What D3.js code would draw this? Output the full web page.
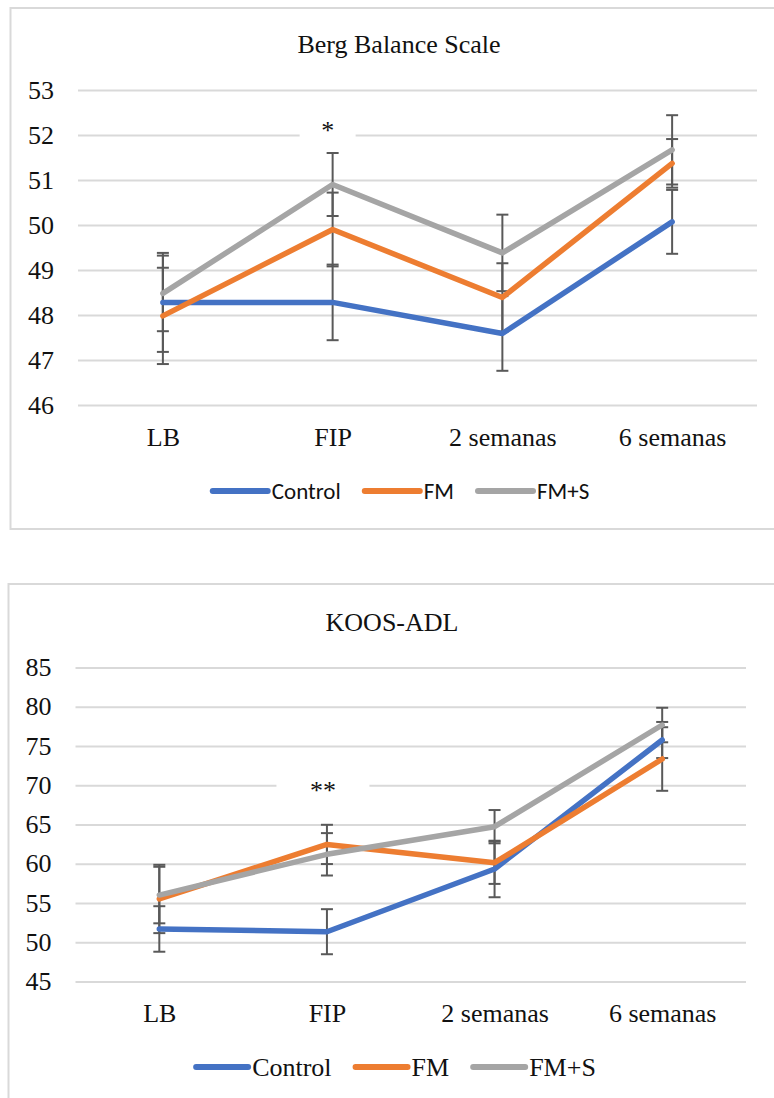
<!DOCTYPE html>
<html>
<head>
<meta charset="utf-8">
<script src="https://cdn.jsdelivr.net/npm/d3@7"></script>
<style>
  html, body { margin: 0; padding: 0; background: #fff; overflow: hidden; }
  svg { display: block; }
</style>
</head>
<body>
<svg id="chart" width="774" height="1098"></svg>
<script>
// shared categories and series names
const categories = ['LB', 'FIP', '2 semanas', '6 semanas'];
const seriesNames = ['Control', 'FM', 'FM+S'];
const seriesColors = ['#4472C4', '#ED7D31', '#A5A5A5'];

// Berg Balance Scale (means, error bar half-widths)
const bergControl = [48.28, 48.28, 47.59, 50.07];
const bergControlErr = [1.1, 0.84, 0.83, 0.71];
const bergFM = [47.98, 49.9, 48.39, 51.37];
const bergFMErr = [1.07, 0.82, 0.76, 0.54];
const bergFMS = [48.48, 50.9, 49.38, 51.67];
const bergFMSErr = [0.84, 0.7, 0.85, 0.77];
const bergTicks = [46, 47, 48, 49, 50, 51, 52, 53];

// KOOS-ADL
const koosControl = [51.68, 51.33, 59.32, 75.75];
const koosControlErr = [2.9, 2.87, 3.6, 2.3];
const koosFM = [55.5, 62.45, 60.12, 73.33];
const koosFMErr = [4.35, 2.5, 2.7, 4.05];
const koosFMS = [56.0, 61.19, 64.71, 77.66];
const koosFMSErr = [3.6, 2.7, 2.12, 2.2];
const koosTicks = [45, 50, 55, 60, 65, 70, 75, 80, 85];

const serif = "'Liberation Serif', 'Times New Roman', serif";
const svg = d3.select('#chart');

function drawChart(cfg) {
  const g = svg.append('g');

  // chart frame (right / bottom edges run off the page like the scan)
  g.append('rect')
    .attr('x', cfg.box[0]).attr('y', cfg.box[1])
    .attr('width', cfg.box[2]).attr('height', cfg.box[3])
    .attr('fill', '#fff')
    .attr('stroke', '#d9d9d9').attr('stroke-width', 2);

  const x = d3.scalePoint()
    .domain(categories)
    .range([cfg.plotLeft, cfg.plotRight])
    .padding(0.5);

  const y = d3.scaleLinear()
    .domain(d3.extent(cfg.ticks))
    .range([cfg.yBottom, cfg.yTop]);

  // title
  g.append('text')
    .attr('x', cfg.titleX).attr('y', cfg.titleY)
    .attr('text-anchor', 'middle')
    .attr('font-family', serif).attr('font-size', 26)
    .attr('fill', '#111')
    .text(cfg.title);

  // gridlines + y labels
  const yAxis = g.append('g')
    .attr('transform', `translate(${cfg.plotLeft},0)`)
    .call(d3.axisLeft(y).tickValues(cfg.ticks).tickFormat(d3.format('d'))
      .tickSize(0).tickPadding(cfg.tickPad))
    .call(a => a.select('.domain').remove());
  yAxis.selectAll('.tick text')
    .attr('font-family', serif).attr('font-size', 26).attr('fill', '#111');
  yAxis.selectAll('.tick').append('line')
    .attr('x2', cfg.plotRight - cfg.plotLeft)
    .attr('stroke', '#d9d9d9').attr('stroke-width', 2);

  // x labels
  const xAxis = g.append('g')
    .attr('transform', `translate(0,${cfg.xLabelY})`)
    .call(d3.axisBottom(x).tickSize(0).tickPadding(0))
    .call(a => a.select('.domain').remove());
  xAxis.selectAll('.tick text')
    .attr('font-family', serif).attr('font-size', 26).attr('fill', '#111')
    .attr('dy', 0);

  // significance marker with white backing box
  cfg.notes.forEach(n => {
    const cx = x(n.cat) + n.shift;
    g.append('rect')
      .attr('x', cx - n.boxW / 2).attr('y', y(n.value) - 14)
      .attr('width', n.boxW).attr('height', 28)
      .attr('fill', '#fff');
    g.append('text')
      .attr('x', cx).attr('y', y(n.value) + n.dy)
      .attr('text-anchor', 'middle')
      .attr('font-family', serif).attr('font-size', 26).attr('fill', '#111')
      .text(n.text);
  });

  const series = seriesNames.map((name, i) => ({
    name, color: seriesColors[i],
    values: cfg.values[i].map((v, j) => ({ cat: categories[j], v, e: cfg.errors[i][j] }))
  }));

  // error bars
  const eb = g.append('g').attr('stroke', '#595959').attr('stroke-width', 2);
  series.forEach(s => {
    s.values.forEach(d => {
      const cx = x(d.cat);
      eb.append('line')
        .attr('x1', cx).attr('x2', cx)
        .attr('y1', y(d.v + d.e)).attr('y2', y(d.v - d.e));
      [d.v + d.e, d.v - d.e].forEach(t => {
        eb.append('line')
          .attr('x1', cx - 6).attr('x2', cx + 6)
          .attr('y1', y(t)).attr('y2', y(t));
      });
    });
  });

  // series lines
  const line = d3.line().x(d => x(d.cat)).y(d => y(d.v));
  g.append('g').selectAll('path')
    .data(series)
    .join('path')
      .attr('fill', 'none')
      .attr('stroke', d => d.color)
      .attr('stroke-width', 5.5)
      .attr('stroke-linejoin', 'round')
      .attr('stroke-linecap', 'round')
      .attr('d', d => line(d.values));

  // legend, centred on the chart area
  const leg = g.append('g');
  const items = series.map(s => {
    const it = leg.append('g');
    it.append('line')
      .attr('x1', 0).attr('x2', cfg.legLine)
      .attr('stroke', s.color).attr('stroke-width', 6)
      .attr('stroke-linecap', 'round');
    const t = it.append('text')
      .attr('x', cfg.legLine + 4)
      .attr('dy', '0.35em')
      .attr('font-family', cfg.legFont).attr('font-size', cfg.legSize)
      .attr('fill', '#111')
      .text(s.name);
    return { it, w: cfg.legLine + 4 + t.node().getComputedTextLength() };
  });
  const gap = 24;
  const total = d3.sum(items, d => d.w) + gap * (items.length - 1);
  let cur = cfg.legX - total / 2;
  items.forEach(d => {
    d.it.attr('transform', `translate(${cur},${cfg.legY})`);
    cur += d.w + gap;
  });
}

drawChart({
  title: 'Berg Balance Scale',
  box: [10.5, 8, 800, 521],
  plotLeft: 78, plotRight: 757,
  yTop: 90, yBottom: 405,
  ticks: bergTicks,
  tickPad: 24,
  titleX: 399, titleY: 53,
  xLabelY: 446,
  values: [bergControl, bergFM, bergFMS],
  errors: [bergControlErr, bergFMErr, bergFMSErr],
  notes: [{ cat: 'FIP', value: 52, text: '*', shift: -5, boxW: 56, dy: 4 }],
  legX: 401, legY: 491, legLine: 55,
  legFont: "Carlito, Lato, 'DejaVu Sans', sans-serif", legSize: 23
});

drawChart({
  title: 'KOOS-ADL',
  box: [8.5, 584, 800, 600],
  plotLeft: 75.5, plotRight: 746,
  yTop: 667.4, yBottom: 981.4,
  ticks: koosTicks,
  tickPad: 24,
  titleX: 392, titleY: 630.5,
  xLabelY: 1022,
  values: [koosControl, koosFM, koosFMS],
  errors: [koosControlErr, koosFMErr, koosFMSErr],
  notes: [{ cat: 'FIP', value: 70, text: '**', shift: -4, boxW: 93, dy: 14 }],
  legX: 396, legY: 1067, legLine: 52,
  legFont: serif, legSize: 26
});
</script>
</body>
</html>
